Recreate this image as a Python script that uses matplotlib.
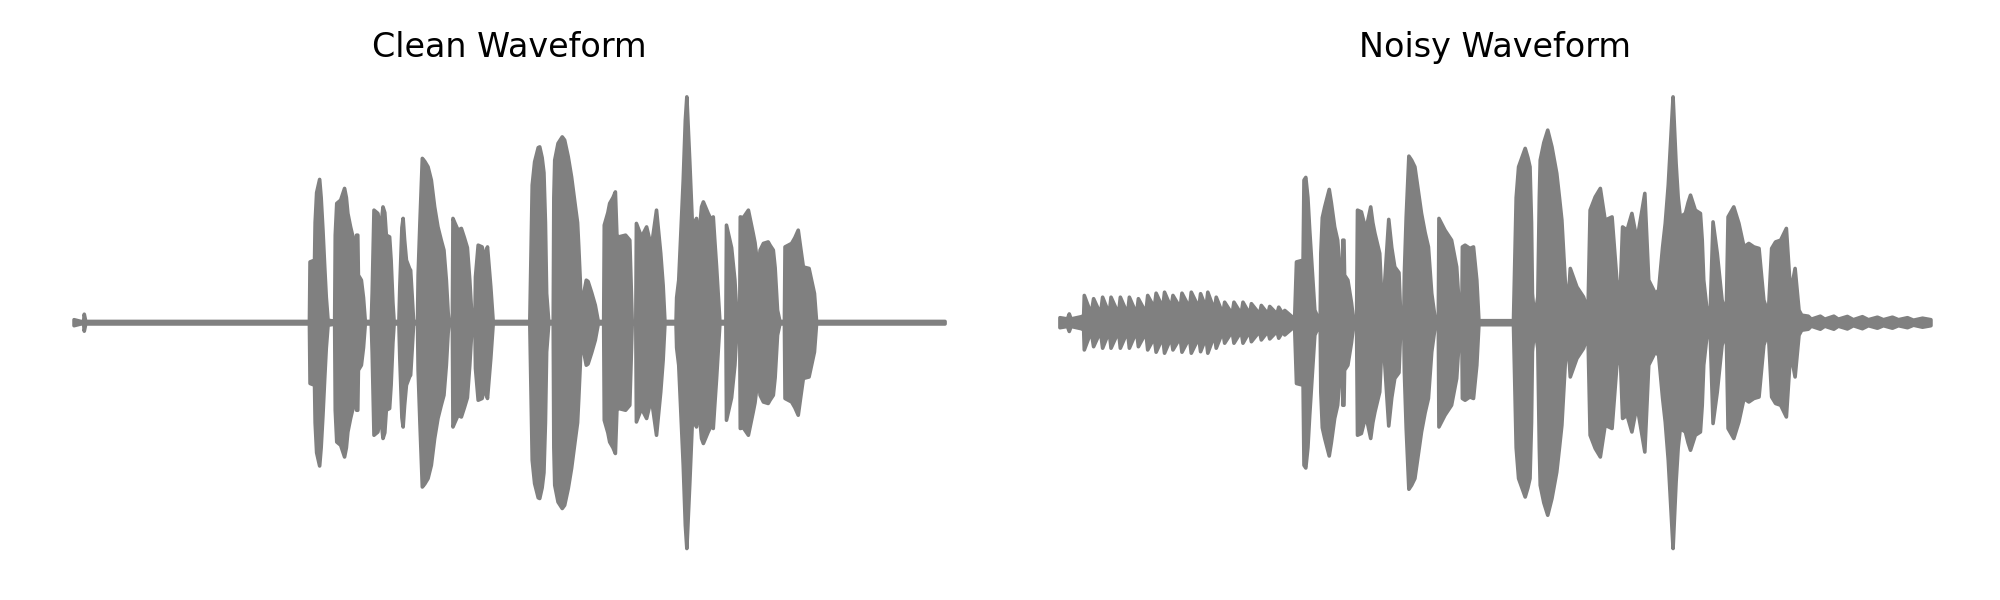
import matplotlib
matplotlib.use('Agg')
import matplotlib.pyplot as plt
import numpy as np

# Amplitude envelopes (time in s, peak amplitude)
clean_t = [
    0.000, 0.023, 0.032, 0.034, 0.039, 0.784,
    0.786, 0.801, 0.803, 0.808, 0.818, 0.823, 0.829, 0.835, 0.840, 0.846, 0.866,
    0.868, 0.870, 0.875, 0.888, 0.901, 0.907, 0.912, 0.921, 0.929, 0.934, 0.937, 0.940,
    0.941, 0.945, 0.947, 0.957, 0.964, 0.970,
    0.990, 0.993, 0.999, 1.012, 1.021, 1.029, 1.035, 1.040, 1.051, 1.056, 1.062, 1.066,
    1.082, 1.085, 1.092, 1.096, 1.101, 1.107, 1.118, 1.121, 1.126, 1.131,
    1.144, 1.146, 1.152, 1.160, 1.168, 1.179, 1.190, 1.201, 1.212, 1.223, 1.232, 1.240, 1.246, 1.249,
    1.260, 1.262, 1.268, 1.279, 1.290, 1.300, 1.310, 1.318, 1.326,
    1.335, 1.337, 1.346, 1.359, 1.368, 1.377, 1.388, 1.396,
    1.518, 1.520, 1.526, 1.534, 1.546, 1.551, 1.559, 1.565, 1.570, 1.574, 1.581,
    1.596, 1.598, 1.601, 1.612, 1.626, 1.634, 1.646, 1.657, 1.670, 1.677, 1.681, 1.686, 1.690,
    1.691, 1.695, 1.706, 1.712, 1.724, 1.736, 1.746,
    1.764, 1.766, 1.778, 1.784, 1.795, 1.803, 1.808, 1.814, 1.837, 1.851, 1.855, 1.859,
    1.871, 1.873, 1.890, 1.907, 1.923, 1.940, 1.954, 1.962, 1.968,
    2.005, 2.007, 2.014, 2.023, 2.029, 2.036, 2.041, 2.046, 2.051, 2.057, 2.062, 2.068,
    2.073, 2.079, 2.084, 2.090, 2.096, 2.103, 2.112, 2.123, 2.129, 2.134, 2.140, 2.146, 2.151,
    2.171, 2.173, 2.190, 2.201, 2.209,
    2.217, 2.219, 2.229, 2.246, 2.262, 2.268, 2.279, 2.285, 2.296, 2.312, 2.318, 2.329,
    2.335, 2.343, 2.351,
    2.366, 2.368, 2.390, 2.401, 2.412, 2.420, 2.429, 2.438, 2.448, 2.466, 2.473,
    2.901,
]
clean_amp = [
    0.012, 0.005, 0.005, 0.034, 0.005, 0.005,
    0.243, 0.250, 0.400, 0.520, 0.573, 0.500, 0.370, 0.220, 0.103, 0.010, 0.006,
    0.005, 0.350, 0.477, 0.490, 0.537, 0.500, 0.437, 0.383, 0.343, 0.300, 0.020, 0.020,
    0.350, 0.350, 0.190, 0.170, 0.100, 0.005,
    0.005, 0.120, 0.450, 0.437, 0.370, 0.463, 0.440, 0.350, 0.343, 0.250, 0.080, 0.005,
    0.005, 0.143, 0.380, 0.417, 0.330, 0.250, 0.215, 0.210, 0.110, 0.005,
    0.005, 0.190, 0.400, 0.657, 0.645, 0.623, 0.570, 0.463, 0.383, 0.330, 0.290, 0.170, 0.040, 0.005,
    0.005, 0.417, 0.400, 0.370, 0.377, 0.340, 0.300, 0.170, 0.005,
    0.005, 0.183, 0.310, 0.303, 0.263, 0.303, 0.143, 0.005,
    0.005, 0.143, 0.550, 0.643, 0.700, 0.703, 0.660, 0.600, 0.400, 0.117, 0.005,
    0.005, 0.500, 0.650, 0.717, 0.743, 0.730, 0.663, 0.583, 0.463, 0.400, 0.303, 0.170, 0.005,
    0.005, 0.100, 0.170, 0.165, 0.120, 0.070, 0.005,
    0.005, 0.390, 0.440, 0.477, 0.500, 0.523, 0.350, 0.343, 0.350, 0.330, 0.170, 0.005,
    0.005, 0.397, 0.343, 0.383, 0.303, 0.450, 0.277, 0.150, 0.005,
    0.005, 0.100, 0.170, 0.410, 0.570, 0.810, 0.903, 0.770, 0.637, 0.463, 0.317, 0.397,
    0.417, 0.343, 0.383, 0.463, 0.483, 0.463, 0.437, 0.410, 0.423, 0.330, 0.223, 0.103, 0.005,
    0.005, 0.390, 0.300, 0.170, 0.005,
    0.005, 0.423, 0.420, 0.450, 0.357, 0.320, 0.210, 0.290, 0.317, 0.323, 0.310, 0.290,
    0.220, 0.050, 0.005,
    0.005, 0.303, 0.317, 0.340, 0.370, 0.300, 0.223, 0.220, 0.217, 0.117, 0.005,
    0.005,
]

noisy_t = [
    0.000, 0.025, 0.031, 0.037, 0.075,
    0.079, 0.081, 0.104, 0.112, 0.135, 0.142, 0.164, 0.170, 0.195, 0.201, 0.225,
    0.231, 0.255, 0.261, 0.286, 0.292, 0.314, 0.320, 0.342, 0.348, 0.370, 0.376,
    0.400, 0.406, 0.431, 0.437, 0.462, 0.468, 0.486, 0.492, 0.514, 0.520, 0.542,
    0.548, 0.573, 0.579, 0.603, 0.609, 0.631, 0.637, 0.664, 0.670, 0.692, 0.698,
    0.722, 0.728, 0.742, 0.748, 0.776,
    0.781, 0.787, 0.809, 0.812, 0.818, 0.825, 0.831, 0.840, 0.848, 0.859,
    0.866, 0.868, 0.873, 0.881, 0.896, 0.903, 0.914, 0.924, 0.931, 0.936, 0.940,
    0.941, 0.945, 0.947, 0.958, 0.970, 0.976,
    0.987, 0.990, 1.003, 1.012, 1.020, 1.034, 1.041, 1.048, 1.064, 1.070, 1.076,
    1.081, 1.094, 1.104, 1.114, 1.128, 1.134,
    1.144, 1.146, 1.152, 1.161, 1.170, 1.181, 1.192, 1.203, 1.215, 1.226, 1.237, 1.248,
    1.259, 1.261, 1.281, 1.303, 1.320, 1.331,
    1.337, 1.339, 1.348, 1.364, 1.376, 1.387, 1.394,
    1.509, 1.512, 1.518, 1.526, 1.548, 1.557, 1.564, 1.569, 1.572, 1.579,
    1.581, 1.590, 1.595, 1.598, 1.610, 1.623, 1.637, 1.653, 1.662, 1.670, 1.681, 1.690,
    1.698, 1.720, 1.742, 1.757,
    1.764, 1.781, 1.798, 1.814, 1.837, 1.853, 1.864,
    1.872, 1.887, 1.903, 1.920, 1.946, 1.959, 1.981,
    1.992, 2.005, 2.014, 2.024, 2.031, 2.040, 2.045, 2.050, 2.057, 2.064, 2.081, 2.090,
    2.098, 2.114, 2.131, 2.137, 2.142, 2.153,
    2.164, 2.173, 2.187, 2.203, 2.217,
    2.223, 2.242, 2.259, 2.276, 2.292, 2.309, 2.326, 2.342, 2.357,
    2.368, 2.381, 2.398, 2.417, 2.431, 2.446, 2.459, 2.468,
    2.490, 2.500, 2.530, 2.545, 2.575, 2.590, 2.620, 2.640, 2.670, 2.690, 2.720,
    2.740, 2.770, 2.790, 2.820, 2.840, 2.870, 2.898,
]
noisy_amp = [
    0.020, 0.015, 0.035, 0.015, 0.025,
    0.030, 0.109, 0.035, 0.096, 0.035, 0.102, 0.035, 0.102, 0.035, 0.102, 0.035,
    0.102, 0.035, 0.096, 0.040, 0.109, 0.060, 0.118, 0.060, 0.122, 0.060, 0.109,
    0.060, 0.118, 0.060, 0.122, 0.060, 0.116, 0.060, 0.122, 0.050, 0.102, 0.035,
    0.082, 0.035, 0.082, 0.035, 0.082, 0.035, 0.076, 0.035, 0.069, 0.035, 0.065,
    0.035, 0.062, 0.035, 0.049, 0.020,
    0.020, 0.243, 0.250, 0.570, 0.581, 0.500, 0.370, 0.200, 0.050, 0.020,
    0.020, 0.277, 0.420, 0.463, 0.533, 0.480, 0.383, 0.330, 0.223, 0.020, 0.020,
    0.330, 0.330, 0.190, 0.170, 0.080, 0.020,
    0.020, 0.450, 0.443, 0.400, 0.383, 0.463, 0.400, 0.357, 0.277, 0.120, 0.020,
    0.170, 0.413, 0.300, 0.223, 0.200, 0.020,
    0.020, 0.197, 0.420, 0.666, 0.650, 0.623, 0.530, 0.437, 0.360, 0.303, 0.117, 0.020,
    0.020, 0.417, 0.370, 0.330, 0.223, 0.020,
    0.010, 0.303, 0.310, 0.297, 0.303, 0.170, 0.008,
    0.008, 0.170, 0.500, 0.623, 0.697, 0.660, 0.623, 0.400, 0.117, 0.020,
    0.030, 0.103, 0.500, 0.650, 0.720, 0.770, 0.703, 0.597, 0.500, 0.410, 0.170, 0.063,
    0.217, 0.143, 0.103, 0.050,
    0.450, 0.503, 0.537, 0.410, 0.423, 0.170, 0.117,
    0.383, 0.370, 0.437, 0.330, 0.517, 0.170, 0.117,
    0.130, 0.300, 0.397, 0.550, 0.703, 0.903, 0.770, 0.637, 0.500, 0.423, 0.437, 0.480,
    0.510, 0.450, 0.437, 0.330, 0.170, 0.050,
    0.063, 0.403, 0.277, 0.090, 0.037,
    0.423, 0.463, 0.397, 0.303, 0.317, 0.303, 0.297, 0.090, 0.037,
    0.297, 0.323, 0.330, 0.377, 0.117, 0.217, 0.050, 0.030,
    0.026, 0.014, 0.026, 0.014, 0.026, 0.014, 0.025, 0.012, 0.024, 0.012, 0.022,
    0.012, 0.022, 0.012, 0.020, 0.010, 0.018, 0.012,
]

titles = ['Clean Waveform', 'Noisy Waveform']
COLOR = 'gray'

fig, axes = plt.subplots(1, 2, figsize=(10, 3), dpi=200)
fig.subplots_adjust(left=0.015, right=0.987, bottom=0.049, top=0.877, wspace=0.029)

for ax, t, amp, title in zip(axes, [clean_t, noisy_t], [clean_amp, noisy_amp], titles):
    t = np.array(t)
    amp = np.array(amp)
    ax.fill_between(t, amp, -amp, color=COLOR, linewidth=1.3, edgecolor=COLOR,
                    joinstyle='round', capstyle='round')
    ax.set_title(title, fontsize=12)
    ax.axis('off')

plt.savefig('out.png', dpi=200)
plt.close()
